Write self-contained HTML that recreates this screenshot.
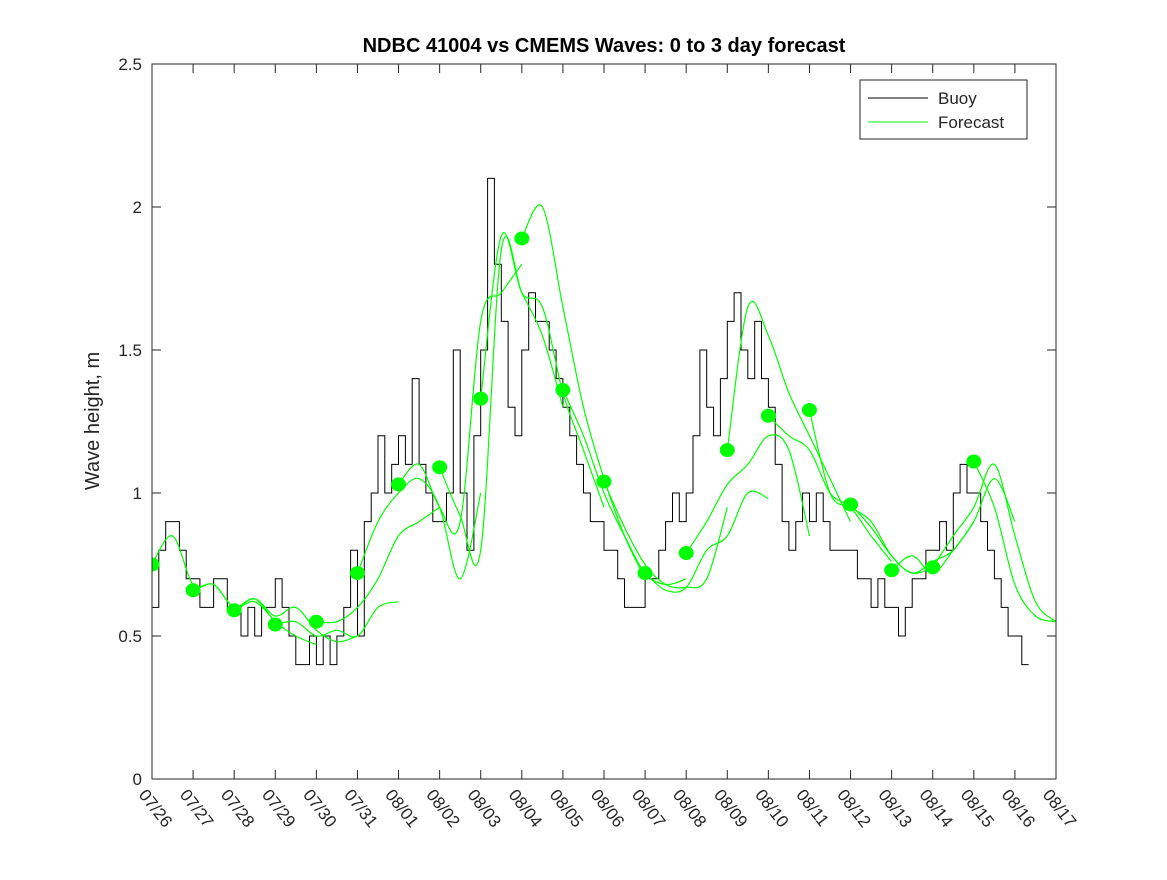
<!DOCTYPE html>
<html><head><meta charset="utf-8"><style>
body{margin:0;background:#fff}
svg text{font-family:"Liberation Sans",sans-serif;fill:#262626}
</style></head><body>
<svg id="chart" width="1167" height="875" xmlns="http://www.w3.org/2000/svg">
<defs><clipPath id="clip"><rect x="152" y="64" width="904" height="715"/></clipPath></defs>
<rect x="0" y="0" width="1167" height="875" fill="#fff"/>
<text x="604" y="52" text-anchor="middle" font-size="20" font-weight="bold" style="fill:#000">NDBC 41004 vs CMEMS Waves: 0 to 3 day forecast</text>
<text transform="translate(99,421) rotate(-90)" text-anchor="middle" font-size="20">Wave height, m</text>
<g id="axes"></g>
<g id="series" clip-path="url(#clip)"></g>
<rect x="152" y="64" width="904" height="715" fill="none" stroke="#262626" stroke-width="1"/>
<g>
<rect x="860" y="80" width="167" height="59" fill="#fff" stroke="#262626" stroke-width="1"/>
<line x1="868" y1="98" x2="928" y2="98" stroke="#000" stroke-width="1"/>
<text x="938" y="104" font-size="17">Buoy</text>
<line x1="868" y1="122" x2="928" y2="122" stroke="#00ff00" stroke-width="1"/>
<text x="938" y="128" font-size="17">Forecast</text>
</g>
</svg>
<script>
const xLabels=["07/26","07/27","07/28","07/29","07/30","07/31","08/01","08/02","08/03","08/04","08/05","08/06","08/07","08/08","08/09","08/10","08/11","08/12","08/13","08/14","08/15","08/16","08/17"];
const yTicks=[0,0.5,1,1.5,2,2.5];
const buoyStepDays=1/6;
const buoy=[.6,.8,.9,.9,.8,.7, .7,.6,.6,.7,.7,.6, .6,.5,.6,.5,.6,.6, .7,.6,.5,.4,.4,.5, .4,.5,.4,.5,.6,.8,
 .5,.9,1.0,1.2,1.0,1.1, 1.2,1.1,1.4,1.1,1.0,.9, .9,1.0,1.5,1.0,.8,1.2, 1.5,2.1,1.8,1.6,1.3,1.2,
 1.5,1.7,1.6,1.6,1.5,1.4, 1.3,1.2,1.1,1.0,.9,.9, .8,.8,.7,.6,.6,.6, .7,.7,.8,.9,1.0,.9,
 1.0,1.2,1.5,1.3,1.2,1.4, 1.6,1.7,1.5,1.4,1.6,1.4, 1.3,1.1,.9,.8,.9,1.0, .9,1.0,.9,.8,.8,.8,
 .8,.7,.7,.6,.7,.6, .6,.5,.6,.7,.7,.8, .8,.9,.8,1.0,1.1,1.0, 1.0,.9,.8,.7,.6,.5, .5,.4];
const dots=[.75,.66,.59,.54,.55,.72,1.03,1.09,1.33,1.89,1.36,1.04,.72,.79,1.15,1.27,1.29,.96,.73,.74,1.11];
const fcStepDays=0.5;
const forecasts=[
[.75,.85,.68,.68,.6,.62,.55],
[.66,.68,.6,.63,.55,.5,.47],
[.59,.63,.57,.6,.52,.48,.5],
[.54,.55,.5,.52,.5,.6,.62],
[.55,.55,.6,.7,.85,.9,.95],
[.72,.9,1.0,1.05,.95,.7,1.0],
[1.03,1.1,.95,.9,1.6,1.7,1.8],
[1.09,.92,.8,1.85,1.7,1.55,1.3],
[1.33,1.9,1.7,1.65,1.35,1.15,.95],
[1.89,2.0,1.65,1.3,1.05,.85,.7],
[1.36,1.2,1.0,.85,.72,.68,.7],
[1.04,.88,.75,.68,.67,.7,.95],
[.72,.66,.67,.8,.85,1.0,.98],
[.79,.9,1.03,1.1,1.2,1.15,.85],
[1.15,1.65,1.55,1.35,1.2,1.05,.9],
[1.27,1.2,1.15,1.0,.95,.85,.76],
[1.29,1.0,.95,.9,.78,.72,.74],
[.96,.88,.78,.72,.76,.8,.9],
[.73,.78,.72,.8,.9,1.05,.9],
[.74,.85,.95,1.1,.85,.62,.55],
[1.11,.95,.68,.57,.55]
];
const X0=152,X1=1056,Y0=779,Y1=64,NDAYS=22,YMAX=2.5;
function xs(d){return X0+(X1-X0)*d/NDAYS;}
function ys(v){return Y0-(Y0-Y1)*v/YMAX;}
const NS="http://www.w3.org/2000/svg";
const axes=document.getElementById('axes'),series=document.getElementById('series');
function mk(tag,attrs,parent){const e=document.createElementNS(NS,tag);for(const k in attrs)e.setAttribute(k,attrs[k]);parent.appendChild(e);return e;}
yTicks.forEach(v=>{
 const y=ys(v);
 const t1=mk('line',{x1:X0,y1:y,x2:X0+9,y2:y,stroke:'#262626'},axes);
 
 
 const t2=mk('line',{x1:X1-9,y1:y,x2:X1,y2:y,stroke:'#262626'},axes);
 
 
 const tx=mk('text',{x:X0-10,y:y+6,'text-anchor':'end','font-size':17},axes);
 tx.textContent=String(v);
 
 
});
xLabels.forEach((l,i)=>{
 const x=xs(i);
 const t1=mk('line',{x1:x,y1:Y0,x2:x,y2:Y0-9,stroke:'#262626'},axes);
 
 
 const t2=mk('line',{x1:x,y1:Y1,x2:x,y2:Y1+9,stroke:'#262626'},axes);
 
 
 const tx=mk('text',{transform:`translate(${x-14},${Y0+16}) rotate(52)`,'font-size':17},axes);
 tx.textContent=l;
 
 
});
let p='';
buoy.forEach((v,i)=>{const x0=xs(i*buoyStepDays),x1=xs((i+1)*buoyStepDays),y=ys(v);p+=(i?'L':'M')+x0.toFixed(1)+' '+y.toFixed(1)+'L'+x1.toFixed(1)+' '+y.toFixed(1);});
const bl=mk('path',{d:p,fill:'none',stroke:'#000','stroke-width':1},series);


function smoothPath(pts){
 let d='M'+pts[0][0].toFixed(1)+' '+pts[0][1].toFixed(1);
 for(let i=0;i<pts.length-1;i++){
  const p0=pts[Math.max(0,i-1)],p1=pts[i],p2=pts[i+1],p3=pts[Math.min(pts.length-1,i+2)];
  const c1=[p1[0]+(p2[0]-p0[0])/6,p1[1]+(p2[1]-p0[1])/6];
  const c2=[p2[0]-(p3[0]-p1[0])/6,p2[1]-(p3[1]-p1[1])/6];
  d+='C'+c1[0].toFixed(1)+' '+c1[1].toFixed(1)+' '+c2[0].toFixed(1)+' '+c2[1].toFixed(1)+' '+p2[0].toFixed(1)+' '+p2[1].toFixed(1);
 }
 return d;
}
forecasts.forEach((f,k)=>{
 const pts=f.map((v,j)=>[xs(k+j*fcStepDays),ys(v)]);
 const fl=mk('path',{d:smoothPath(pts),fill:'none',stroke:'#00ff00','stroke-width':1.2},series);
 
 
});
dots.forEach((v,k)=>{
 const c=mk('ellipse',{cx:xs(k),cy:ys(v),rx:7.5,ry:7,fill:'#00ff00'},series);
 
 
});
</script>
</body></html>
